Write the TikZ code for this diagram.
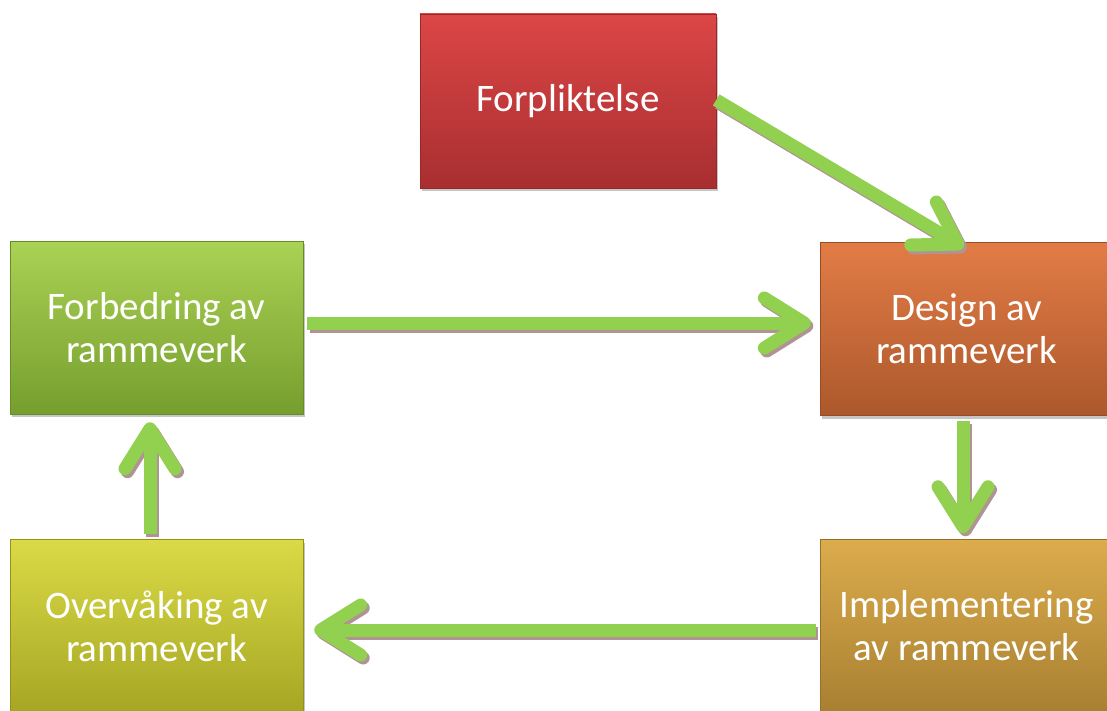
\documentclass[tikz,border=0pt]{standalone}
\usepackage{fontspec}
\setmainfont{Carlito}
\usetikzlibrary{arrows.meta,shadows}
\definecolor{arrowgreen}{HTML}{92D050}
\definecolor{arrshadow}{HTML}{B09494}
\tikzset{
  box/.style={rectangle, minimum width=293pt, minimum height=173pt, inner sep=0pt,
    text=white, align=center, font=\fontsize{39pt}{43pt}\selectfont,
    drop shadow={shadow xshift=2pt, shadow yshift=-3pt, opacity=0.45}},
  flowbase/.style={line width=13pt, -{Straight Barb[round, length=40pt, width=50pt]}},
  flow/.style={flowbase, draw=arrowgreen},
  flowshadow/.style={flowbase, draw=arrshadow}
}
\newcommand\flowarr[2]{%
  \draw[flowshadow, transform canvas={shift={(2.5pt,-3pt)}}] #1 -- #2;
  \draw[flow] #1 -- #2;}
\begin{document}
\begin{tikzpicture}[x=1pt,y=1pt]
\useasboundingbox (0,0) rectangle (1107,-711);
\node[box, minimum width=296pt, minimum height=174pt, top color={rgb,255:red,220;green,70;blue,70}, bottom color={rgb,255:red,168;green,46;blue,48}, draw={rgb,255:red,150;green,40;blue,40}] (F) at (568,-101) {Forpliktelse};
\node[box, top color={rgb,255:red,170;green,210;blue,84}, bottom color={rgb,255:red,118;green,158;blue,46}, draw={rgb,255:red,105;green,140;blue,40}] (B) at (156.5,-327.5) {Forbedring av\\rammeverk};
\node[box, top color={rgb,255:red,226;green,124;blue,70}, bottom color={rgb,255:red,172;green,88;blue,44}, draw={rgb,255:red,150;green,76;blue,38}] (D) at (966.5,-329) {Design av\\rammeverk};
\node[box, top color={rgb,255:red,218;green,218;blue,70}, bottom color={rgb,255:red,166;green,166;blue,36}, draw={rgb,255:red,145;green,145;blue,30}] (O) at (156.5,-626) {Overvåking av\\rammeverk};
\node[box, top color={rgb,255:red,220;green,172;blue,76}, bottom color={rgb,255:red,168;green,128;blue,50}, draw={rgb,255:red,148;green,112;blue,42}] (I) at (966.5,-626) {Implementering\\av rammeverk};
\flowarr{([yshift=1pt]F.east)}{([xshift=-3pt,yshift=-5pt]D.north)}
\flowarr{([xshift=4pt,yshift=4.5pt]B.east)}{([xshift=-9pt,yshift=6pt]D.west)}
\flowarr{([xshift=-3.5pt,yshift=-5pt]D.south)}{([xshift=-3.5pt,yshift=6pt]I.north)}
\flowarr{([xshift=-4pt,yshift=-4pt]I.west)}{([xshift=11pt,yshift=-4pt]O.east)}
\flowarr{([xshift=-6.5pt,yshift=5pt]O.north)}{([xshift=-6.5pt,yshift=-8pt]B.south)}
\end{tikzpicture}
\end{document}
